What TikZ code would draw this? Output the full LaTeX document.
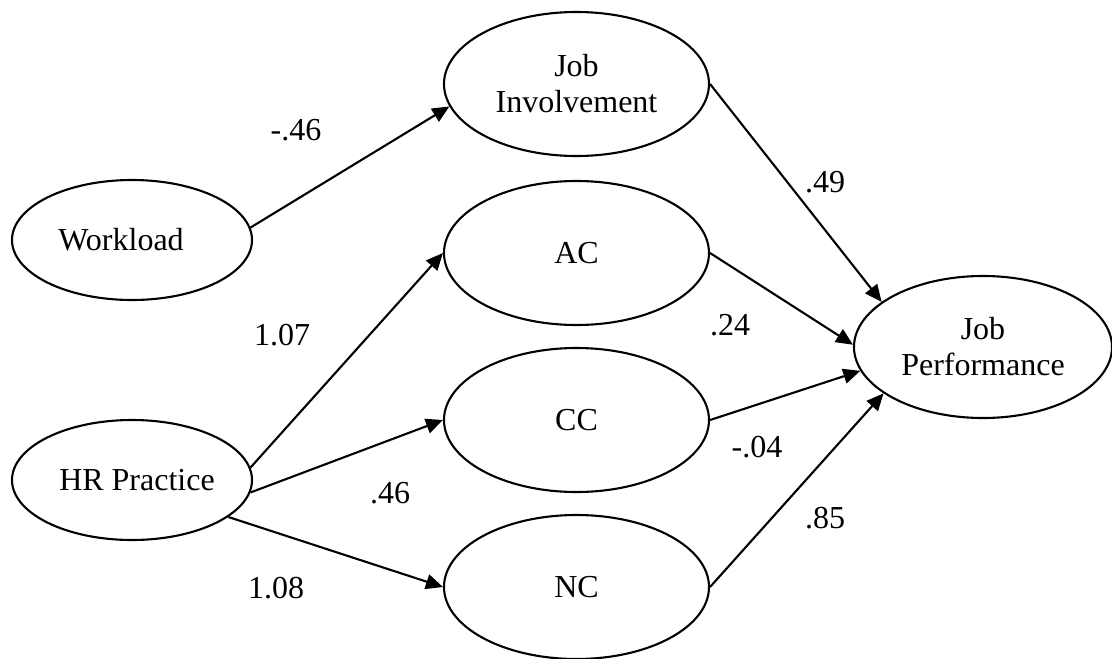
\documentclass[tikz,border=0pt]{standalone}
\usepackage{fontspec}
\setmainfont{Liberation Serif}
\usetikzlibrary{shapes.geometric,arrows.meta}
\begin{document}
\begin{tikzpicture}[x=1pt,y=-1pt,
  every node/.style={font=\fontsize{32}{36}\selectfont},
  latent/.style={ellipse,draw,line width=2.1pt,inner sep=0pt,align=center},
  small/.style={latent,minimum width=240pt,minimum height=120pt},
  mid/.style={latent,minimum width=265pt,minimum height=144pt},
  big/.style={latent,minimum width=258pt,minimum height=142pt},
  path/.style={line width=2.1pt,-{Triangle[length=17pt,width=15pt]}},
  coef/.style={inner sep=0pt}]
\useasboundingbox (0,0) rectangle (1112,659);
\node[small] (wl) at (132,240) {Workload\hspace*{22pt}};
\node[small] (hr) at (132,480) {\hspace*{10pt}HR Practice};
\node[mid] (ji) at (576.5,84) {Job\\Involvement};
\node[mid] (ac) at (576.5,253) {AC};
\node[mid] (cc) at (576.5,420) {CC};
\node[mid] (nc) at (576.5,587) {NC};
\node[big] (jp) at (983,347) {Job\\Performance};
\draw[path] (wl.6) -- (ji.190);
\draw[path] (hr.6) -- (ac.180);
\draw[path] (hr.-6) -- (cc.180);
\draw[path] (hr.-21) -- (nc.180);
\draw[path] (ji.0) -- (jp.156);
\draw[path] (ac.0) -- (jp.179);
\draw[path] (cc.0) -- (jp.191);
\draw[path] (nc.0) -- (jp.205);
\node[coef] (l1) at (296,130) {-.46};
\node[coef] (l2) at (825,182) {.49};
\node[coef] (l3) at (282,335) {1.07};
\node[coef] (l4) at (730,325) {.24};
\node[coef] (l5) at (390,493) {.46};
\node[coef] (l6) at (757,447) {-.04};
\node[coef] (l7) at (276,588) {1.08};
\node[coef] (l8) at (825,518) {.85};
\end{tikzpicture}
\end{document}
